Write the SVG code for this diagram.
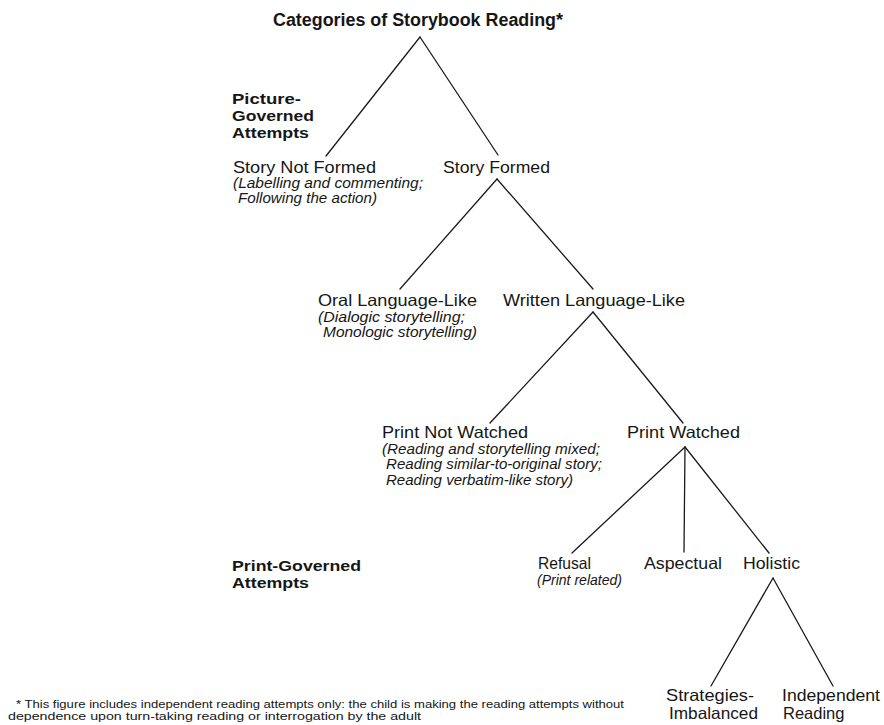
<svg xmlns="http://www.w3.org/2000/svg" width="884" height="725" viewBox="0 0 884 725">
<style>
text{font-family:"Liberation Sans",Arial,Helvetica,sans-serif;fill:#161616}
.t{font-size:17.5px;font-weight:bold}
.h{font-size:15.5px;font-weight:bold}
.n{font-size:16.5px}
.i{font-size:14.5px;font-style:italic}
.f{font-size:11.5px}
.c line{stroke:#1a1a1a;stroke-width:1.3;stroke-linecap:round}
</style>
<rect width="884" height="725" fill="#fff"/>
<g id="title"><text class="t" x="273" y="26" textLength="290" lengthAdjust="spacingAndGlyphs">Categories of Storybook Reading*</text></g>
<g id="picture-governed">
<text class="h" x="232" y="104" textLength="69" lengthAdjust="spacingAndGlyphs">Picture-</text>
<text class="h" x="232" y="121" textLength="82" lengthAdjust="spacingAndGlyphs">Governed</text>
<text class="h" x="232" y="138" textLength="77" lengthAdjust="spacingAndGlyphs">Attempts</text>
</g>
<g id="print-governed">
<text class="h" x="232" y="571" textLength="129" lengthAdjust="spacingAndGlyphs">Print-Governed</text>
<text class="h" x="232" y="588" textLength="77" lengthAdjust="spacingAndGlyphs">Attempts</text>
</g>
<g id="story-not-formed">
<text class="n" x="233" y="173" textLength="143" lengthAdjust="spacingAndGlyphs">Story Not Formed</text>
<text class="i" x="233" y="188" textLength="190" lengthAdjust="spacingAndGlyphs">(Labelling and commenting;</text>
<text class="i" x="238" y="203" textLength="139" lengthAdjust="spacingAndGlyphs">Following the action)</text>
</g>
<g id="story-formed"><text class="n" x="443" y="173" textLength="107" lengthAdjust="spacingAndGlyphs">Story Formed</text></g>
<g id="oral-language-like">
<text class="n" x="318" y="306" textLength="159" lengthAdjust="spacingAndGlyphs">Oral Language-Like</text>
<text class="i" x="318" y="322" textLength="147" lengthAdjust="spacingAndGlyphs">(Dialogic storytelling;</text>
<text class="i" x="323" y="337" textLength="154" lengthAdjust="spacingAndGlyphs">Monologic storytelling)</text>
</g>
<g id="written-language-like"><text class="n" x="503" y="306" textLength="182" lengthAdjust="spacingAndGlyphs">Written Language-Like</text></g>
<g id="print-not-watched">
<text class="n" x="382" y="438" textLength="146" lengthAdjust="spacingAndGlyphs">Print Not Watched</text>
<text class="i" x="382" y="454" textLength="218" lengthAdjust="spacingAndGlyphs">(Reading and storytelling mixed;</text>
<text class="i" x="386" y="469" textLength="216" lengthAdjust="spacingAndGlyphs">Reading similar-to-original story;</text>
<text class="i" x="386" y="485" textLength="187" lengthAdjust="spacingAndGlyphs">Reading verbatim-like story)</text>
</g>
<g id="print-watched"><text class="n" x="627" y="438" textLength="113" lengthAdjust="spacingAndGlyphs">Print Watched</text></g>
<g id="refusal">
<text class="n" x="538" y="569" textLength="53" lengthAdjust="spacingAndGlyphs">Refusal</text>
<text class="i" x="537" y="585" textLength="85" lengthAdjust="spacingAndGlyphs">(Print related)</text>
</g>
<g id="aspectual"><text class="n" x="644" y="569" textLength="78" lengthAdjust="spacingAndGlyphs">Aspectual</text></g>
<g id="holistic"><text class="n" x="743" y="569" textLength="57" lengthAdjust="spacingAndGlyphs">Holistic</text></g>
<g id="strategies-imbalanced">
<text class="n" x="666" y="701" textLength="88" lengthAdjust="spacingAndGlyphs">Strategies-</text>
<text class="n" x="669" y="719" textLength="89" lengthAdjust="spacingAndGlyphs">Imbalanced</text>
</g>
<g id="independent-reading">
<text class="n" x="782" y="701" textLength="98" lengthAdjust="spacingAndGlyphs">Independent</text>
<text class="n" x="783" y="719">Reading</text>
</g>
<g id="footnote">
<text class="f" x="16" y="708" textLength="608" lengthAdjust="spacingAndGlyphs">* This figure includes independent reading attempts only: the child is making the reading attempts without</text>
<text class="f" x="8" y="720" textLength="413" lengthAdjust="spacingAndGlyphs">dependence upon turn-taking reading or interrogation by the adult</text>
</g>
<g id="connectors" class="c">
<line x1="420" y1="37" x2="326" y2="156"/>
<line x1="420" y1="37" x2="498" y2="155"/>
<line x1="497" y1="179" x2="400" y2="289"/>
<line x1="497" y1="179" x2="593" y2="289"/>
<line x1="593" y1="312" x2="490" y2="423"/>
<line x1="593" y1="312" x2="683" y2="423"/>
<line x1="685" y1="447" x2="572" y2="553"/>
<line x1="685" y1="447" x2="684" y2="552"/>
<line x1="685" y1="447" x2="769" y2="553"/>
<line x1="773" y1="578" x2="711" y2="686"/>
<line x1="773" y1="578" x2="833" y2="686"/>
</g>
</svg>
